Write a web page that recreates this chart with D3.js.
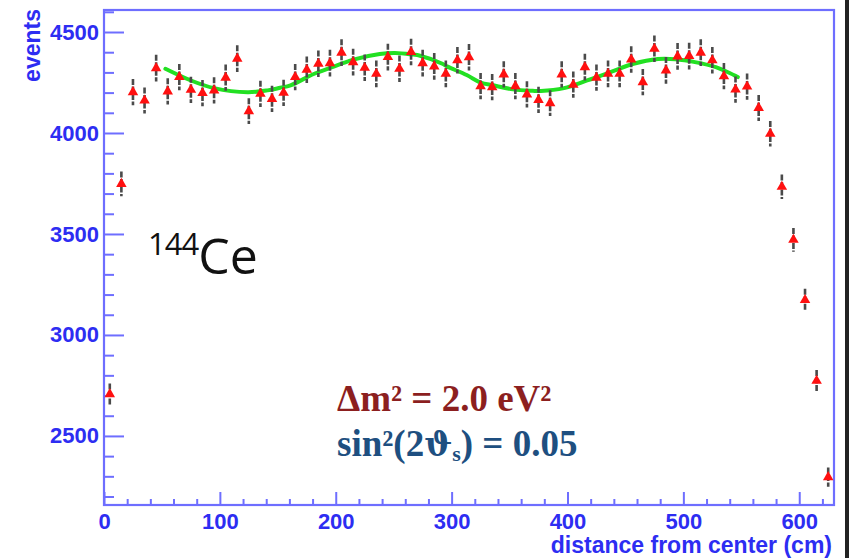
<!DOCTYPE html>
<html>
<head>
<meta charset="utf-8">
<script src="https://cdn.jsdelivr.net/npm/d3@7/dist/d3.min.js"></script>
<style>
  html, body { margin: 0; padding: 0; background: #fff; }
  svg { display: block; }
</style>
</head>
<body>
<script>
// Radial event profile of a 144Ce source, bins of 10 cm
const distance = [5, 15, 25, 35, 45, 55, 65, 75, 85, 95, 105, 115, 125, 135, 145, 155,
  165, 175, 185, 195, 205, 215, 225, 235, 245, 255, 265, 275, 285, 295, 305, 315,
  325, 335, 345, 355, 365, 375, 385, 395, 405, 415, 425, 435, 445, 455, 465, 475,
  485, 495, 505, 515, 525, 535, 545, 555, 565, 575, 585, 595, 605, 615, 625];
const events = [2707, 3748, 4202, 4161, 4321, 4206, 4277, 4214, 4198, 4211, 4274, 4368,
  4108, 4194, 4169, 4199, 4277, 4313, 4343, 4346, 4398, 4351, 4323, 4293, 4376, 4318,
  4401, 4346, 4330, 4293, 4360, 4375, 4232, 4227, 4290, 4232, 4191, 4164, 4148, 4290,
  4239, 4326, 4274, 4293, 4293, 4364, 4252, 4417, 4310, 4379, 4381, 4398, 4360, 4281,
  4215, 4230, 4124, 3996, 3734, 3471, 3173, 2773, 2296];
const errors = [52, 61, 65, 64, 66, 65, 65, 65, 65, 65, 65, 66, 64, 65, 65, 65, 65, 66,
  66, 66, 66, 66, 66, 66, 66, 66, 66, 66, 66, 66, 66, 66, 65, 65, 65, 65, 65, 65, 64,
  65, 65, 66, 65, 66, 66, 66, 65, 66, 66, 66, 66, 66, 66, 65, 65, 65, 64, 63, 61, 59,
  56, 53, 48];

// Oscillation fit (sampled along the fitted curve)
const fitDistance = [53, 75, 95, 124, 141, 152, 161, 181, 197, 210, 217, 238, 251, 267,
  272, 292, 296, 313, 325, 336, 353, 370, 377, 397, 417, 437, 457, 478, 493, 510, 528, 547];
const fitEvents = [4318, 4260, 4222, 4202, 4211, 4224, 4236, 4292, 4326, 4353, 4366,
  4391, 4396, 4388, 4384, 4343, 4330, 4287, 4250, 4236, 4216, 4209, 4208, 4222, 4260,
  4301, 4343, 4366, 4365, 4351, 4326, 4277];

const xMajor = [0, 100, 200, 300, 400, 500, 600];
const xMinor = [20, 40, 60, 80, 120, 140, 160, 180, 220, 240, 260, 280, 320, 340, 360,
  380, 420, 440, 460, 480, 520, 540, 560, 580, 620];
const yMajor = [2500, 3000, 3500, 4000, 4500];
const yMinor = [2200, 2300, 2400, 2600, 2700, 2800, 2900, 3100, 3200, 3300, 3400, 3600,
  3700, 3800, 3900, 4100, 4200, 4300, 4400, 4600];

const W = 849, H = 558;
const frame = { left: 104, right: 834, top: 10, bottom: 505 };
const axisLine = "#6e6eff";
const labelBlue = "#2d2df2";
const sansBold = "'Liberation Sans', Arial, Helvetica, sans-serif";

const svg = d3.select("body").append("svg")
  .attr("width", W).attr("height", H)
  .attr("viewBox", `0 0 ${W} ${H}`);

svg.append("rect").attr("width", W).attr("height", H).attr("fill", "#fff");

const x = d3.scaleLinear().domain([0, 630]).range([frame.left, frame.right]);
const y = d3.scaleLinear().domain([2158, 4609]).range([frame.bottom, frame.top]);

// Axes: ticks point into the plot area
function styleAxis(g) {
  g.select(".domain").remove();
  g.selectAll(".tick line").attr("stroke", axisLine).attr("stroke-width", 2);
  g.selectAll(".tick text")
    .attr("fill", labelBlue)
    .attr("font-family", sansBold)
    .attr("font-weight", "bold")
    .attr("font-size", 22);
}

svg.append("g")
  .attr("transform", `translate(0,${frame.bottom})`)
  .call(d3.axisBottom(x).tickValues(xMinor).tickSize(-6).tickFormat(""))
  .call(styleAxis);
svg.append("g")
  .attr("transform", `translate(0,${frame.bottom})`)
  .call(d3.axisBottom(x).tickValues(xMajor).tickSize(-13).tickPadding(8).tickFormat(d3.format("d")))
  .call(styleAxis);

svg.append("g")
  .attr("transform", `translate(${frame.left},0)`)
  .call(d3.axisLeft(y).tickValues(yMinor).tickSize(-10).tickFormat(""))
  .call(styleAxis);
svg.append("g")
  .attr("transform", `translate(${frame.left},0)`)
  .call(d3.axisLeft(y).tickValues(yMajor).tickSize(-20).tickPadding(5).tickFormat(d3.format("d")))
  .call(styleAxis);

// Frame
svg.append("rect")
  .attr("x", frame.left).attr("y", frame.top)
  .attr("width", frame.right - frame.left).attr("height", frame.bottom - frame.top)
  .attr("fill", "none").attr("stroke", axisLine).attr("stroke-width", 2.2);

// Axis titles
svg.append("text")
  .attr("x", 832).attr("y", 553)
  .attr("text-anchor", "end")
  .attr("font-family", sansBold).attr("font-weight", "bold").attr("font-size", 23)
  .attr("fill", labelBlue)
  .text("distance from center (cm)");

svg.append("text")
  .attr("transform", "translate(40,9) rotate(-90)")
  .attr("text-anchor", "end")
  .attr("font-family", sansBold).attr("font-weight", "bold").attr("font-size", 23)
  .attr("fill", labelBlue)
  .text("events");

// Fit curve
const fitLine = d3.line()
  .x((d, i) => x(fitDistance[i]))
  .y(d => y(d))
  .curve(d3.curveCatmullRom.alpha(0.5));
svg.append("path")
  .datum(fitEvents)
  .attr("d", fitLine)
  .attr("fill", "none")
  .attr("stroke", "#22e022")
  .attr("stroke-width", 4)
  .attr("stroke-linecap", "round");

// Data points with error bars
const pts = svg.append("g");
pts.selectAll("line.err")
  .data(events)
  .join("line")
  .attr("class", "err")
  .attr("x1", (d, i) => x(distance[i]))
  .attr("x2", (d, i) => x(distance[i]))
  .attr("y1", (d, i) => y(d + errors[i]))
  .attr("y2", (d, i) => y(d - errors[i]))
  .attr("stroke", "#4a4a4a")
  .attr("stroke-width", 2.6)
  .attr("stroke-dasharray", "6,1.5");

const tri = d3.symbol().type(d3.symbolTriangle).size(48);
pts.selectAll("path.mk")
  .data(events)
  .join("path")
  .attr("class", "mk")
  .attr("d", tri)
  .attr("transform", (d, i) => `translate(${x(distance[i])},${y(d)})`)
  .attr("fill", "#ff1010");

// Isotope label
const iso = svg.append("text")
  .attr("x", 148).attr("y", 274)
  .attr("font-family", "'Open Sans', 'Lato', sans-serif")
  .attr("fill", "#111");
iso.append("tspan").attr("font-size", 31).attr("dy", -19).attr("letter-spacing", -1).text("144");
iso.append("tspan").attr("font-size", 50).attr("dy", 19).text("Ce");

// Oscillation parameters
const serif = "'Liberation Serif', 'DejaVu Serif', serif";
svg.append("text")
  .attr("x", 337).attr("y", 411)
  .attr("font-family", serif).attr("font-weight", "bold").attr("font-size", 37)
  .attr("fill", "#8c1f1f")
  .text("Δm² = 2.0 eV²");

const s2 = svg.append("text")
  .attr("x", 337).attr("y", 456)
  .attr("font-family", serif).attr("font-weight", "bold").attr("font-size", 37)
  .attr("fill", "#1e4f80");
s2.append("tspan").text("sin²(2");
s2.append("tspan").attr("font-family", "'DejaVu Serif', serif").attr("font-size", 33).text("ϑ");
s2.append("tspan").attr("font-size", 22).attr("dy", 5).text("s");
s2.append("tspan").attr("dy", -5).text(") = 0.05");

// Dark edge on the right side of the panel
svg.append("rect").attr("x", 845).attr("y", 0).attr("width", 4).attr("height", H).attr("fill", "#222");
</script>
</body>
</html>
